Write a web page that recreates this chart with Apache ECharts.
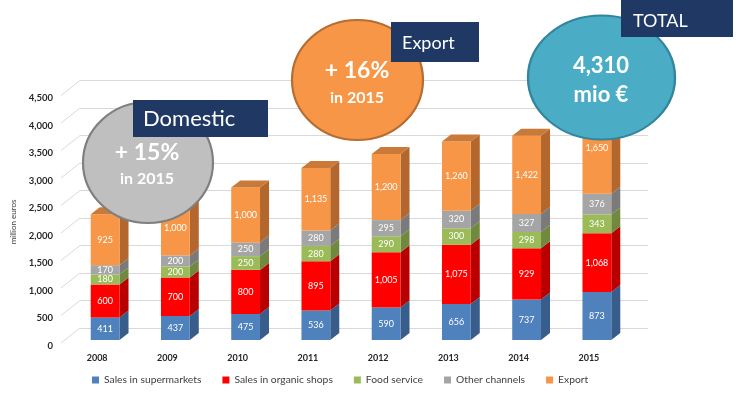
<!DOCTYPE html>
<html><head><meta charset="utf-8">
<script src="https://cdn.jsdelivr.net/npm/echarts@6/dist/echarts.min.js"></script>
<style>html,body{margin:0;padding:0;background:#fff}#c{width:743px;height:393px}</style>
</head><body><div id="c"></div>
<script>
const years = ['2008','2009','2010','2011','2012','2013','2014','2015'];
const supermarkets = [411,437,475,536,590,656,737,873];
const organicShops = [600,700,800,895,1005,1075,929,1068];
const foodService = [180,200,250,280,290,300,298,343];
const otherChannels = [170,200,250,280,295,320,327,376];
const exportSales = [925,1000,1000,1135,1200,1260,1422,1650];
const seriesNames = ['Sales in supermarkets','Sales in organic shops','Food service','Other channels','Export'];
const yTicks = [0,500,1000,1500,2000,2500,3000,3500,4000,4500];

const layers = [supermarkets, organicShops, foodService, otherChannels, exportSales];
const front = ['#4F81BD','#FF0000','#9BBB59','#A5A5A5','#F79646'];
const side = ['#385D8A','#B80000','#71893F','#7A7A7A','#B4672C'];
const topC = ['#4372AA','#D00000','#86A34B','#8E8E8E','#C97A38'];
const DX = 9, DY = 7;
const FONT = 'Lato';

const chart = echarts.init(document.getElementById('c'), null, {renderer:'canvas'});
const cum = years.map(() => 0);
const barSeries = layers.map((arr, li) => {
  const data = arr.map((v, i) => { const d = [i, cum[i], v]; cum[i] += v; return d; });
  const isTop = li === layers.length - 1;
  return {
    name: seriesNames[li], type: 'custom', xAxisIndex: 0, yAxisIndex: 0,
    itemStyle: {color: front[li]},
    encode: {x: 0, y: 1},
    data: data,
    z: 5,
    renderItem: function (params, api) {
      const i = api.value(0), base = api.value(1), v = api.value(2);
      const b = api.coord([i, base]);
      const t = api.coord([i, base + v]);
      const band = api.size([1, 0])[0];
      const w = band * 0.41;
      const x0 = b[0] - w / 2, x1 = x0 + w;
      const yb = b[1], yt = t[1];
      const children = [
        {type:'polygon', shape:{points:[[x1,yt],[x1+DX,yt-DY],[x1+DX,yb-DY],[x1,yb]]}, style:{fill: side[li]}},
        {type:'rect', shape:{x:x0, y:yt, width:w, height:yb-yt}, style:{fill: front[li]}},
        {type:'text', x:(x0+x1)/2, y:(yt+yb)/2, style:{text: v.toLocaleString('en-US'), fill:'#ffffff', font:'9px ' + FONT, align:'center', verticalAlign:'middle', textAlign:'center', textVerticalAlign:'middle'}}
      ];
      if (isTop) {
        children.push({type:'polygon', shape:{points:[[x0,yt],[x0+DX,yt-DY],[x1+DX,yt-DY],[x1,yt]]}, style:{fill: topC[li]}});
      }
      return {type:'group', children: children};
    }
  };
});

const wallSeries = {
  type:'custom', xAxisIndex:1, yAxisIndex:1, silent:true, z:1,
  data: yTicks.map(t => [0, t]),
  encode:{x:0, y:1},
  renderItem: function (params, api) {
    const p = api.coord([0, api.value(1)]);
    const left = p[0] - api.size([1,0])[0] / 2;
    return {type:'line', shape:{x1:left, y1:p[1], x2:left-19, y2:p[1]+15}, style:{stroke:'#d9d9d9', lineWidth:1}};
  }
};

const option = {
  animation: false,
  textStyle: {fontFamily: FONT},
  grid: [
    {left:70, width:562, top:92.5, height:247.5},
    {left:80, width:568, top:80.5, height:247.5},
    {left:70, width:562, top:98.2, height:247.5}
  ],
  xAxis: [
    {type:'category', gridIndex:0, data:years, axisLine:{show:false}, axisTick:{show:false},
     axisLabel:{margin:14, fontSize:9, fontWeight:'bold', color:'#262626', fontFamily:FONT, padding:[0,16,0,0]}},
    {type:'category', gridIndex:1, data:['w'], show:false},
    {type:'category', gridIndex:2, data:years, show:false}
  ],
  yAxis: [
    {type:'value', gridIndex:0, min:0, max:4500, interval:500, show:false},
    {type:'value', gridIndex:1, min:0, max:4500, interval:500, axisLabel:{show:false}, axisLine:{show:false}, axisTick:{show:false},
     splitLine:{show:true, lineStyle:{color:'#d9d9d9', width:1}}},
    {type:'value', gridIndex:2, min:0, max:4500, interval:500, axisLine:{show:false}, axisTick:{show:false}, splitLine:{show:false},
     axisLabel:{margin:17, fontSize:9.5, fontWeight:'bold', color:'#262626', fontFamily:FONT,
       formatter: v => yTicks.includes(v) ? v.toLocaleString('en-US') : ''},
     name:'million euros', nameLocation:'middle', nameGap:53, nameRotate:90,
     nameTextStyle:{fontSize:8, color:'#404040', fontFamily:FONT}}
  ],
  legend: {
    data: seriesNames.map(n => ({name:n, icon:'rect'})),
    left: 87, top: 370, itemWidth:7, itemHeight:7, itemGap:21,
    textStyle:{fontSize:10.3, color:'#404040', fontFamily:FONT}
  },
  series: [wallSeries].concat(barSeries),
  graphic: [
    {type:'circle', x:148, y:162.5, scaleX:65/60, scaleY:60.5/60, shape:{cx:0, cy:0, r:60}, style:{fill:'#BFBFBF', stroke:'#7F7F7F', lineWidth:2}, z:100},
    {type:'text', x:147, y:153, style:{text:'+ 15%', fill:'#fff', font:'bold 23px ' + FONT, align:'center', verticalAlign:'middle', textAlign:'center', textVerticalAlign:'middle'}, z:101},
    {type:'text', x:147, y:179, style:{text:'in 2015', fill:'#fff', font:'bold 16px ' + FONT, align:'center', verticalAlign:'middle', textAlign:'center', textVerticalAlign:'middle'}, z:101},
    {type:'rect', shape:{x:133, y:100, width:135, height:37}, style:{fill:'#1F3864'}, z:102},
    {type:'text', x:143, y:119, style:{text:'Domestic', fill:'#fff', font:'22px ' + FONT, align:'left', verticalAlign:'middle', textAlign:'left', textVerticalAlign:'middle'}, z:103},

    {type:'circle', x:357.5, y:80, scaleX:65.5/60, scaleY:1, shape:{cx:0, cy:0, r:60}, style:{fill:'#F79646', stroke:'#B66D31', lineWidth:2}, z:100},
    {type:'text', x:357, y:71, style:{text:'+ 16%', fill:'#fff', font:'bold 23px ' + FONT, align:'center', verticalAlign:'middle', textAlign:'center', textVerticalAlign:'middle'}, z:101},
    {type:'text', x:357, y:98, style:{text:'in 2015', fill:'#fff', font:'bold 16px ' + FONT, align:'center', verticalAlign:'middle', textAlign:'center', textVerticalAlign:'middle'}, z:101},
    {type:'rect', shape:{x:391, y:22, width:88, height:40}, style:{fill:'#1F3864'}, z:102},
    {type:'text', x:402, y:43, style:{text:'Export', fill:'#fff', font:'18px ' + FONT, align:'left', verticalAlign:'middle', textAlign:'left', textVerticalAlign:'middle'}, z:103},

    {type:'circle', x:601.5, y:77.5, scaleX:73.5/62, scaleY:1, shape:{cx:0, cy:0, r:62}, style:{fill:'#4BACC6', stroke:'#31859C', lineWidth:2}, z:100},
    {type:'text', x:601, y:66, style:{text:'4,310', fill:'#fff', font:'bold 22px ' + FONT, align:'center', verticalAlign:'middle', textAlign:'center', textVerticalAlign:'middle'}, z:101},
    {type:'text', x:601, y:95, style:{text:'mio €', fill:'#fff', font:'bold 22px ' + FONT, align:'center', verticalAlign:'middle', textAlign:'center', textVerticalAlign:'middle'}, z:101},
    {type:'rect', shape:{x:621, y:0, width:112, height:37}, style:{fill:'#1F3864'}, z:102},
    {type:'text', x:633, y:21, style:{text:'TOTAL', fill:'#fff', font:'18px ' + FONT, align:'left', verticalAlign:'middle', textAlign:'left', textVerticalAlign:'middle'}, z:103}
  ]
};
chart.setOption(option);
</script></body></html>
